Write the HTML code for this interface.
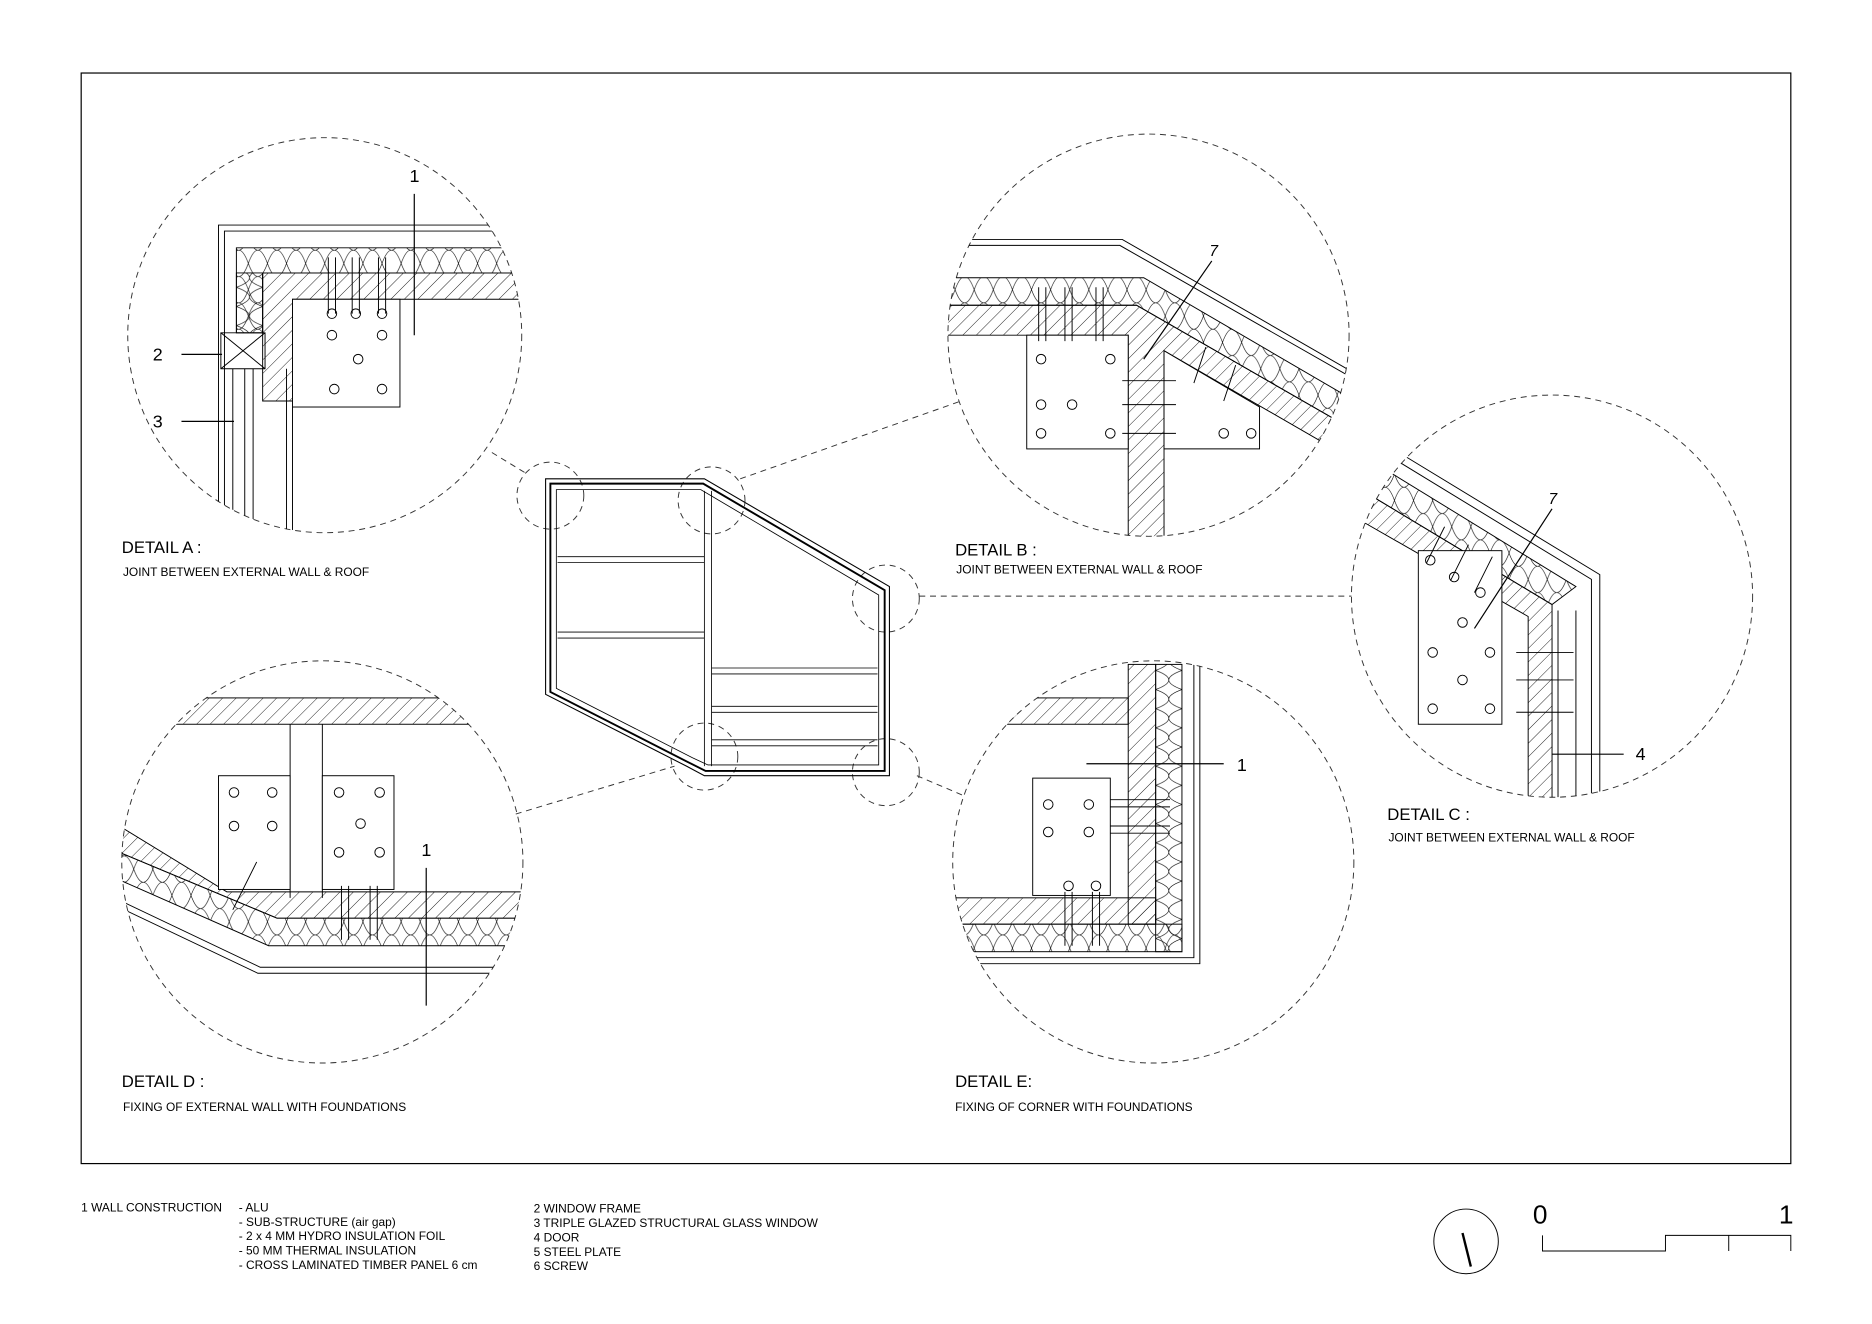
<!DOCTYPE html>
<html><head><meta charset="utf-8"><style>
html,body{margin:0;padding:0;background:#fff}
svg{display:block}
text{font-family:"Liberation Sans",sans-serif;fill:#000}
</style></head><body>
<svg width="1872" height="1324" viewBox="0 0 1568 1106" preserveAspectRatio="none" xmlns="http://www.w3.org/2000/svg">
<defs>
<pattern id="h" width="8" height="8" patternUnits="userSpaceOnUse" patternTransform="rotate(45)"><line x1="0" y1="0" x2="0" y2="8" stroke="#000" stroke-width="0.7"/></pattern>
<pattern id="ins" width="22" height="16" patternUnits="userSpaceOnUse"><path d="M0,0 Q22,8 0,16 M22,0 Q0,8 22,16" fill="none" stroke="#000" stroke-width="0.5"/></pattern>
<pattern id="insh" width="16" height="22" patternUnits="userSpaceOnUse"><path d="M0,0 Q8,22 16,0 M0,22 Q8,0 16,22" fill="none" stroke="#000" stroke-width="0.5"/></pattern>
<clipPath id="cA"><circle cx="272" cy="280" r="165"/></clipPath>
<clipPath id="cB"><circle cx="962" cy="280" r="168"/></clipPath>
<clipPath id="cC"><circle cx="1300" cy="498" r="168"/></clipPath>
<clipPath id="cD"><circle cx="270" cy="720" r="168"/></clipPath>
<clipPath id="cE"><circle cx="966" cy="720" r="168"/></clipPath>
</defs>
<rect x="68" y="61" width="1432" height="911" fill="none" stroke="#000" stroke-width="1"/>
<g fill="none" stroke="#333" stroke-width="0.8" stroke-dasharray="5,4">
<circle cx="272" cy="280" r="165"/><circle cx="962" cy="280" r="168"/><circle cx="1300" cy="498" r="168"/><circle cx="270" cy="720" r="168"/><circle cx="966" cy="720" r="168"/>
<circle cx="461" cy="414" r="28"/><circle cx="596" cy="418" r="28"/><circle cx="742" cy="500" r="28"/><circle cx="590" cy="632" r="28"/><circle cx="742" cy="645" r="28"/>
<line x1="412" y1="378" x2="440" y2="395"/><line x1="620" y1="400" x2="805" y2="335"/><line x1="770" y1="498" x2="1132" y2="498"/><line x1="432" y1="680" x2="565" y2="640"/><line x1="768" y1="648" x2="808" y2="665"/>
</g>
<!-- Detail A -->
<g clip-path="url(#cA)" stroke="#000" stroke-width="0.8">
<path d="M183,450 V188 H440 M188,450 V193 H440" fill="none"/>
<path d="M198,207 H440 V228 H220 V278 H198Z" fill="url(#insh)"/>
<path d="M198,228 H220 V278 H198Z" fill="url(#ins)"/>
<path d="M220,228 H440 V250 H245 V335 H220Z" fill="url(#h)"/>
<rect x="245" y="250" width="90" height="90" fill="#fff"/>
<path d="M185,278 H222 V308 H185Z M185,278 L222,308 M222,278 L185,308" fill="none"/>
<path d="M195,308 V450 M205,308 V450 M212,308 V450 M240,308 V450 M245,340 V450" fill="none"/>
<g fill="none"><circle cx="278" cy="262" r="4"/><circle cx="298" cy="262" r="4"/><circle cx="320" cy="262" r="4"/><circle cx="278" cy="280" r="4"/><circle cx="320" cy="280" r="4"/><circle cx="300" cy="300" r="4"/><circle cx="280" cy="325" r="4"/><circle cx="320" cy="325" r="4"/>
<path d="M275,215 V262 M281,215 V262 M295,215 V262 M301,215 V262 M317,215 V262 M323,215 V262"/></g>
</g>
<text x="343" y="152" font-size="15">1</text><line x1="347" y1="162" x2="347" y2="280" stroke="#000"/>
<text x="128" y="301" font-size="15">2</text><line x1="152" y1="296" x2="186" y2="296" stroke="#000"/>
<text x="128" y="357" font-size="15">3</text><line x1="152" y1="352" x2="196" y2="352" stroke="#000"/>
<text x="102" y="462" font-size="14">DETAIL A :</text>
<text x="103" y="481" font-size="10">JOINT BETWEEN EXTERNAL WALL &amp; ROOF</text>
<!-- Detail B -->
<g clip-path="url(#cB)" stroke="#000" stroke-width="0.8">
<path d="M810,200 H940 L1135,312 M810,205 H938 L1135,317" fill="none"/>
<path d="M790,232 H958 L1135,335 V360 L952,255 H790Z" fill="url(#insh)"/>
<path d="M790,255 H952 L1135,360 V385 L975,293 V450 H945 V280 H790Z" fill="url(#h)"/>
<rect x="860" y="280" width="85" height="95" fill="#fff"/>
<path d="M975,293 L1055,340 V375 H975Z" fill="#fff"/>
<g fill="none"><circle cx="872" cy="300" r="4"/><circle cx="930" cy="300" r="4"/><circle cx="872" cy="338" r="4"/><circle cx="898" cy="338" r="4"/><circle cx="872" cy="362" r="4"/><circle cx="930" cy="362" r="4"/><circle cx="1025" cy="362" r="4"/><circle cx="1048" cy="362" r="4"/>
<path d="M870,240 V285 M876,240 V285 M892,240 V285 M898,240 V285 M918,240 V285 M924,240 V285 M940,318 H985 M940,338 H985 M940,362 H985 M1010,290 L1000,320 M1035,305 L1025,335"/></g>
</g>
<text x="1013" y="214" font-size="13" font-style="italic">7</text><line x1="1015" y1="218" x2="958" y2="300" stroke="#000"/>
<text x="800" y="464" font-size="14">DETAIL B :</text>
<text x="801" y="479" font-size="10">JOINT BETWEEN EXTERNAL WALL &amp; ROOF</text>
<!-- Detail C -->
<g clip-path="url(#cC)" stroke="#000" stroke-width="0.8">
<path d="M1175,380 L1340,480 V680 M1172,386 L1333,484 V680" fill="none"/>
<path d="M1165,395 L1320,490 L1300,505 L1150,415Z" fill="url(#insh)"/>
<path d="M1150,415 L1300,505 V680 H1280 V515 L1140,435Z" fill="url(#h)"/>
<rect x="1188" y="460" width="70" height="145" fill="#fff"/>
<path d="M1305,510 V680 M1320,510 V680" fill="none"/>
<g fill="none"><circle cx="1198" cy="468" r="4"/><circle cx="1218" cy="482" r="4"/><circle cx="1240" cy="495" r="4"/><circle cx="1225" cy="520" r="4"/><circle cx="1200" cy="545" r="4"/><circle cx="1248" cy="545" r="4"/><circle cx="1225" cy="568" r="4"/><circle cx="1200" cy="592" r="4"/><circle cx="1248" cy="592" r="4"/>
<path d="M1270,545 H1318 M1270,568 H1318 M1270,595 H1318 M1210,440 L1195,470 M1230,455 L1215,485 M1250,465 L1235,495"/></g>
</g>
<text x="1297" y="421" font-size="13" font-style="italic">7</text><line x1="1300" y1="425" x2="1235" y2="525" stroke="#000"/>
<text x="1370" y="635" font-size="15">4</text><line x1="1300" y1="630" x2="1360" y2="630" stroke="#000"/>
<text x="1162" y="685" font-size="14">DETAIL C :</text>
<text x="1163" y="703" font-size="10">JOINT BETWEEN EXTERNAL WALL &amp; ROOF</text>
<!-- Detail D -->
<g clip-path="url(#cD)" stroke="#000" stroke-width="0.8">
<rect x="100" y="583" width="345" height="22" fill="url(#h)"/>
<path d="M243,605 V750 M270,605 V750" fill="none"/>
<path d="M100,690 L190,745 H445 V767 H232 L100,712Z" fill="url(#h)"/>
<path d="M100,712 L232,767 H445 V790 H225 L100,735Z" fill="url(#insh)"/>
<path d="M100,752 L218,808 H445 M100,758 L216,813 H445" fill="none"/>
<rect x="183" y="648" width="60" height="95" fill="#fff"/><rect x="270" y="648" width="60" height="95" fill="#fff"/>
<g fill="none"><circle cx="196" cy="662" r="4"/><circle cx="228" cy="662" r="4"/><circle cx="196" cy="690" r="4"/><circle cx="228" cy="690" r="4"/><circle cx="284" cy="662" r="4"/><circle cx="318" cy="662" r="4"/><circle cx="302" cy="688" r="4"/><circle cx="284" cy="712" r="4"/><circle cx="318" cy="712" r="4"/>
<path d="M286,740 V785 M292,740 V785 M310,740 V785 M316,740 V785 M215,720 L195,760"/></g>
</g>
<text x="353" y="715" font-size="15">1</text><line x1="357" y1="725" x2="357" y2="840" stroke="#000"/>
<text x="102" y="908" font-size="14">DETAIL D :</text>
<text x="103" y="928" font-size="10">FIXING OF EXTERNAL WALL WITH FOUNDATIONS</text>
<!-- Detail E -->
<g clip-path="url(#cE)" stroke="#000" stroke-width="0.8">
<rect x="795" y="583" width="150" height="22" fill="url(#h)"/>
<rect x="945" y="555" width="23" height="217" fill="url(#h)"/>
<rect x="968" y="555" width="22" height="240" fill="url(#ins)"/>
<rect x="795" y="750" width="173" height="22" fill="url(#h)"/>
<rect x="795" y="772" width="195" height="23" fill="url(#insh)"/>
<path d="M1005,555 V805 H795 M1000,555 V800 H795" fill="none"/>
<rect x="865" y="650" width="65" height="98" fill="#fff"/>
<g fill="none"><circle cx="878" cy="672" r="4"/><circle cx="912" cy="672" r="4"/><circle cx="878" cy="695" r="4"/><circle cx="912" cy="695" r="4"/><circle cx="895" cy="740" r="4"/><circle cx="918" cy="740" r="4"/>
<path d="M930,668 H980 M930,674 H980 M930,690 H980 M930,696 H980 M892,745 V790 M898,745 V790 M915,745 V790 M921,745 V790"/></g>
</g>
<text x="1036" y="644" font-size="15">1</text><line x1="910" y1="638" x2="1025" y2="638" stroke="#000"/>
<text x="800" y="908" font-size="14">DETAIL E:</text>
<text x="800" y="928" font-size="10">FIXING OF CORNER WITH FOUNDATIONS</text>
<!-- Plan -->
<g fill="none" stroke="#000">
<path d="M457,400 H590 L745,490 V648 H590 L575,640 L457,580Z" stroke-width="0.9"/>
<path d="M461,404 H589 L741,493 V644 H591 L577,637 L461,578Z" stroke-width="1.6"/>
<path d="M466,409 H587 L736,497 V639 H593 L580,633 L466,575Z" stroke-width="0.7"/>
<path d="M590,410 V640 M596,410 V640 M467,465 H590 M467,470 H590 M467,528 H590 M467,533 H590 M596,558 H735 M596,563 H735 M596,590 H735 M596,595 H735 M596,618 H735 M596,623 H735" stroke-width="0.7"/>
</g>
<!-- Legend -->
<g font-size="10">
<text x="68" y="1012">1  WALL CONSTRUCTION</text><text x="200" y="1012">- ALU</text>
<text x="200" y="1024">- SUB-STRUCTURE (air gap)</text>
<text x="200" y="1036">- 2 x 4 MM HYDRO INSULATION FOIL</text>
<text x="200" y="1048">- 50 MM THERMAL INSULATION</text>
<text x="200" y="1060">- CROSS LAMINATED TIMBER PANEL 6 cm</text>
<text x="447" y="1013">2  WINDOW FRAME</text>
<text x="447" y="1025">3  TRIPLE GLAZED STRUCTURAL GLASS WINDOW</text>
<text x="447" y="1037">4  DOOR</text>
<text x="447" y="1049">5  STEEL PLATE</text>
<text x="447" y="1061">6  SCREW</text>
</g>
<circle cx="1228" cy="1037" r="27" fill="none" stroke="#000" stroke-width="0.8"/>
<line x1="1225" y1="1030" x2="1232" y2="1058" stroke="#000" stroke-width="2"/>
<text x="1284" y="1022" font-size="22">0</text><text x="1490" y="1022" font-size="22">1</text>
<path d="M1292,1032 V1045 H1395 V1032 H1500 V1045 M1448,1032 V1045" fill="none" stroke="#000" stroke-width="0.8"/>
</svg>
</body></html>
